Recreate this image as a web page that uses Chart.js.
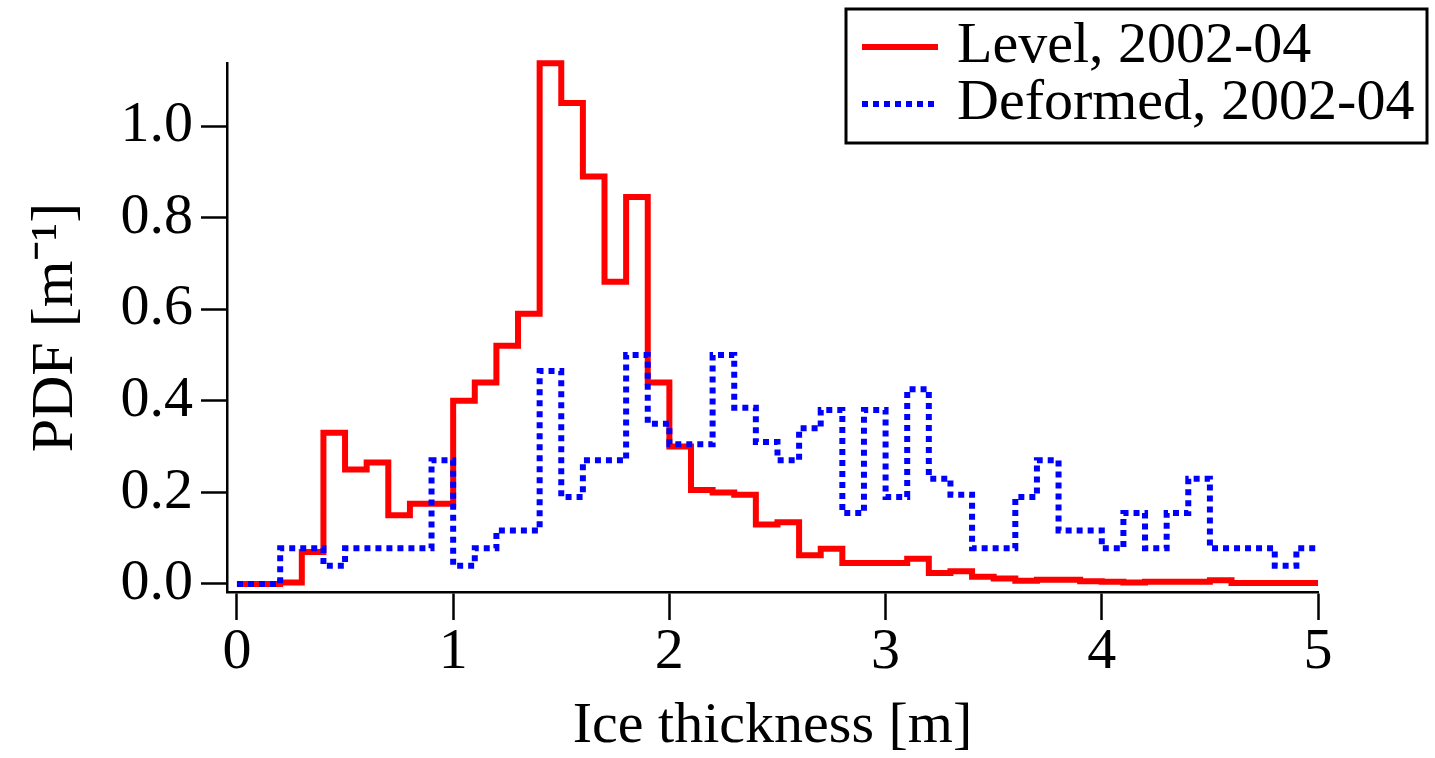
<!DOCTYPE html>
<html>
<head>
<meta charset="utf-8">
<script src="https://cdn.jsdelivr.net/npm/chart.js@4"></script>
<style>
  html, body { margin: 0; padding: 0; background: #fff; }
</style>
</head>
<body>
<canvas id="chart-pdf" width="1435" height="758"></canvas>
<script>
// bin edges [m]
var binEdges = [0.0, 0.1, 0.2, 0.3, 0.4, 0.5, 0.6, 0.7, 0.8, 0.9,
    1.0, 1.1, 1.2, 1.3, 1.4, 1.5, 1.6, 1.7, 1.8, 1.9,
    2.0, 2.1, 2.2, 2.3, 2.4, 2.5, 2.6, 2.7, 2.8, 2.9,
    3.0, 3.1, 3.2, 3.3, 3.4, 3.5, 3.6, 3.7, 3.8, 3.9,
    4.0, 4.1, 4.2, 4.3, 4.4, 4.5, 4.6, 4.7, 4.8, 4.9, 5.0];

var levelPdf = [0, 0, 0.003, 0.07, 0.33, 0.25, 0.265, 0.15, 0.175, 0.175,
    0.40, 0.44, 0.52, 0.59, 1.137, 1.05, 0.89, 0.66, 0.845, 0.44,
    0.30, 0.205, 0.20, 0.195, 0.13, 0.135, 0.063, 0.077, 0.046, 0.046,
    0.046, 0.055, 0.024, 0.028, 0.016, 0.012, 0.007, 0.009, 0.009, 0.006,
    0.005, 0.003, 0.005, 0.005, 0.005, 0.008, 0.002, 0.002, 0.002, 0.002];

var deformedPdf = [0, 0, 0.078, 0.078, 0.04, 0.078, 0.078, 0.078, 0.078, 0.27,
    0.04, 0.078, 0.117, 0.117, 0.465, 0.19, 0.27, 0.27, 0.50, 0.35,
    0.305, 0.305, 0.50, 0.385, 0.31, 0.27, 0.34, 0.38, 0.155, 0.38,
    0.19, 0.425, 0.23, 0.195, 0.078, 0.078, 0.19, 0.27, 0.117, 0.117,
    0.078, 0.155, 0.078, 0.155, 0.23, 0.078, 0.078, 0.078, 0.04, 0.078];

var yTicks = [0.0, 0.2, 0.4, 0.6, 0.8, 1.0];
var xTicks = [0, 1, 2, 3, 4, 5];

var serif = "'Liberation Serif', 'Times New Roman', serif";

function stepPoints(values) {
    var pts = values.map(function(v, i) { return {x: binEdges[i], y: v}; });
    pts.push({x: binEdges[binEdges.length - 1], y: values[values.length - 1]});
    return pts;
}

var boxLegend = {
    id: 'boxLegend',
    afterDraw(chart) {
        var ctx = chart.ctx;
        ctx.save();
        ctx.strokeStyle = '#000';
        ctx.lineWidth = 3;
        ctx.strokeRect(846, 9, 581, 134);
        var rows = [47, 104];
        chart.data.datasets.forEach(function(ds, i) {
            var y = rows[i];
            ctx.beginPath();
            ctx.strokeStyle = ds.borderColor;
            ctx.lineWidth = ds.borderWidth;
            ctx.setLineDash(ds.borderDash || []);
            ctx.moveTo(862, y);
            ctx.lineTo(938, y);
            ctx.stroke();
            ctx.setLineDash([]);
            ctx.fillStyle = '#000';
            ctx.font = '58px ' + serif;
            ctx.textBaseline = 'middle';
            ctx.textAlign = 'left';
            ctx.fillText(ds.label, 957, y);
        });
        ctx.restore();
    }
};

var ctx = document.getElementById("chart-pdf").getContext("2d");

new Chart(ctx, {
    type: "line",
    plugins: [boxLegend],
    data: {
        datasets: [{
                label: "Level, 2002-04",
                data: stepPoints(levelPdf),
                borderColor: "#ff0000",
                borderWidth: 6,
                stepped: true,
                pointRadius: 0,
                fill: false,
                clip: false,
                order: 1
            },
            {
                label: "Deformed, 2002-04",
                data: stepPoints(deformedPdf),
                borderColor: "#0000ff",
                borderWidth: 6,
                borderDash: [6, 5],
                borderCapStyle: 'butt',
                stepped: true,
                pointRadius: 0,
                fill: false,
                clip: false,
                order: 0
            },
        ],
    },
    options: {
        responsive: false,
        animation: false,
        layout: {
            padding: {left: 0, top: 63, right: 117, bottom: 0}
        },
        plugins: {
            legend: {display: false},
            tooltip: {enabled: false}
        },
        scales: {
            x: {
                type: 'linear',
                min: -0.046,
                max: 5,
                afterFit: function(scale) { scale.height = 166; },
                afterBuildTicks: function(scale) {
                    scale.ticks = xTicks.map(function(v) { return {value: v}; });
                },
                border: {display: true, color: '#000', width: 2.5},
                grid: {
                    drawOnChartArea: false,
                    drawTicks: true,
                    tickLength: 28,
                    tickWidth: 2.5,
                    tickColor: '#000'
                },
                ticks: {
                    color: '#000',
                    padding: 4,
                    maxRotation: 0,
                    font: {size: 58, family: serif, lineHeight: 1},
                    callback: function(value) { return String(value); }
                },
                title: {
                    display: true,
                    text: 'Ice thickness [m]',
                    color: '#000',
                    font: {size: 58, family: serif, lineHeight: 1},
                    padding: {top: 0, bottom: 2}
                }
            },
            y: {
                min: -0.0175,
                max: 1.1376,
                afterFit: function(scale) { scale.width = 227; },
                afterBuildTicks: function(scale) {
                    scale.ticks = yTicks.map(function(v) { return {value: v}; });
                },
                border: {display: true, color: '#000', width: 2.5},
                grid: {
                    drawOnChartArea: false,
                    drawTicks: true,
                    tickLength: 26,
                    tickWidth: 2.5,
                    tickColor: '#000'
                },
                ticks: {
                    color: '#000',
                    padding: 8,
                    font: {size: 58, family: serif, lineHeight: 1},
                    callback: function(value) { return value.toFixed(1); }
                },
                title: {
                    display: true,
                    text: 'PDF [m\u207B\u00B9]',
                    color: '#000',
                    font: {size: 60, family: serif, lineHeight: 1},
                    padding: {top: 26, bottom: 0}
                }
            },
        },
    },
});
</script>
</body>
</html>
